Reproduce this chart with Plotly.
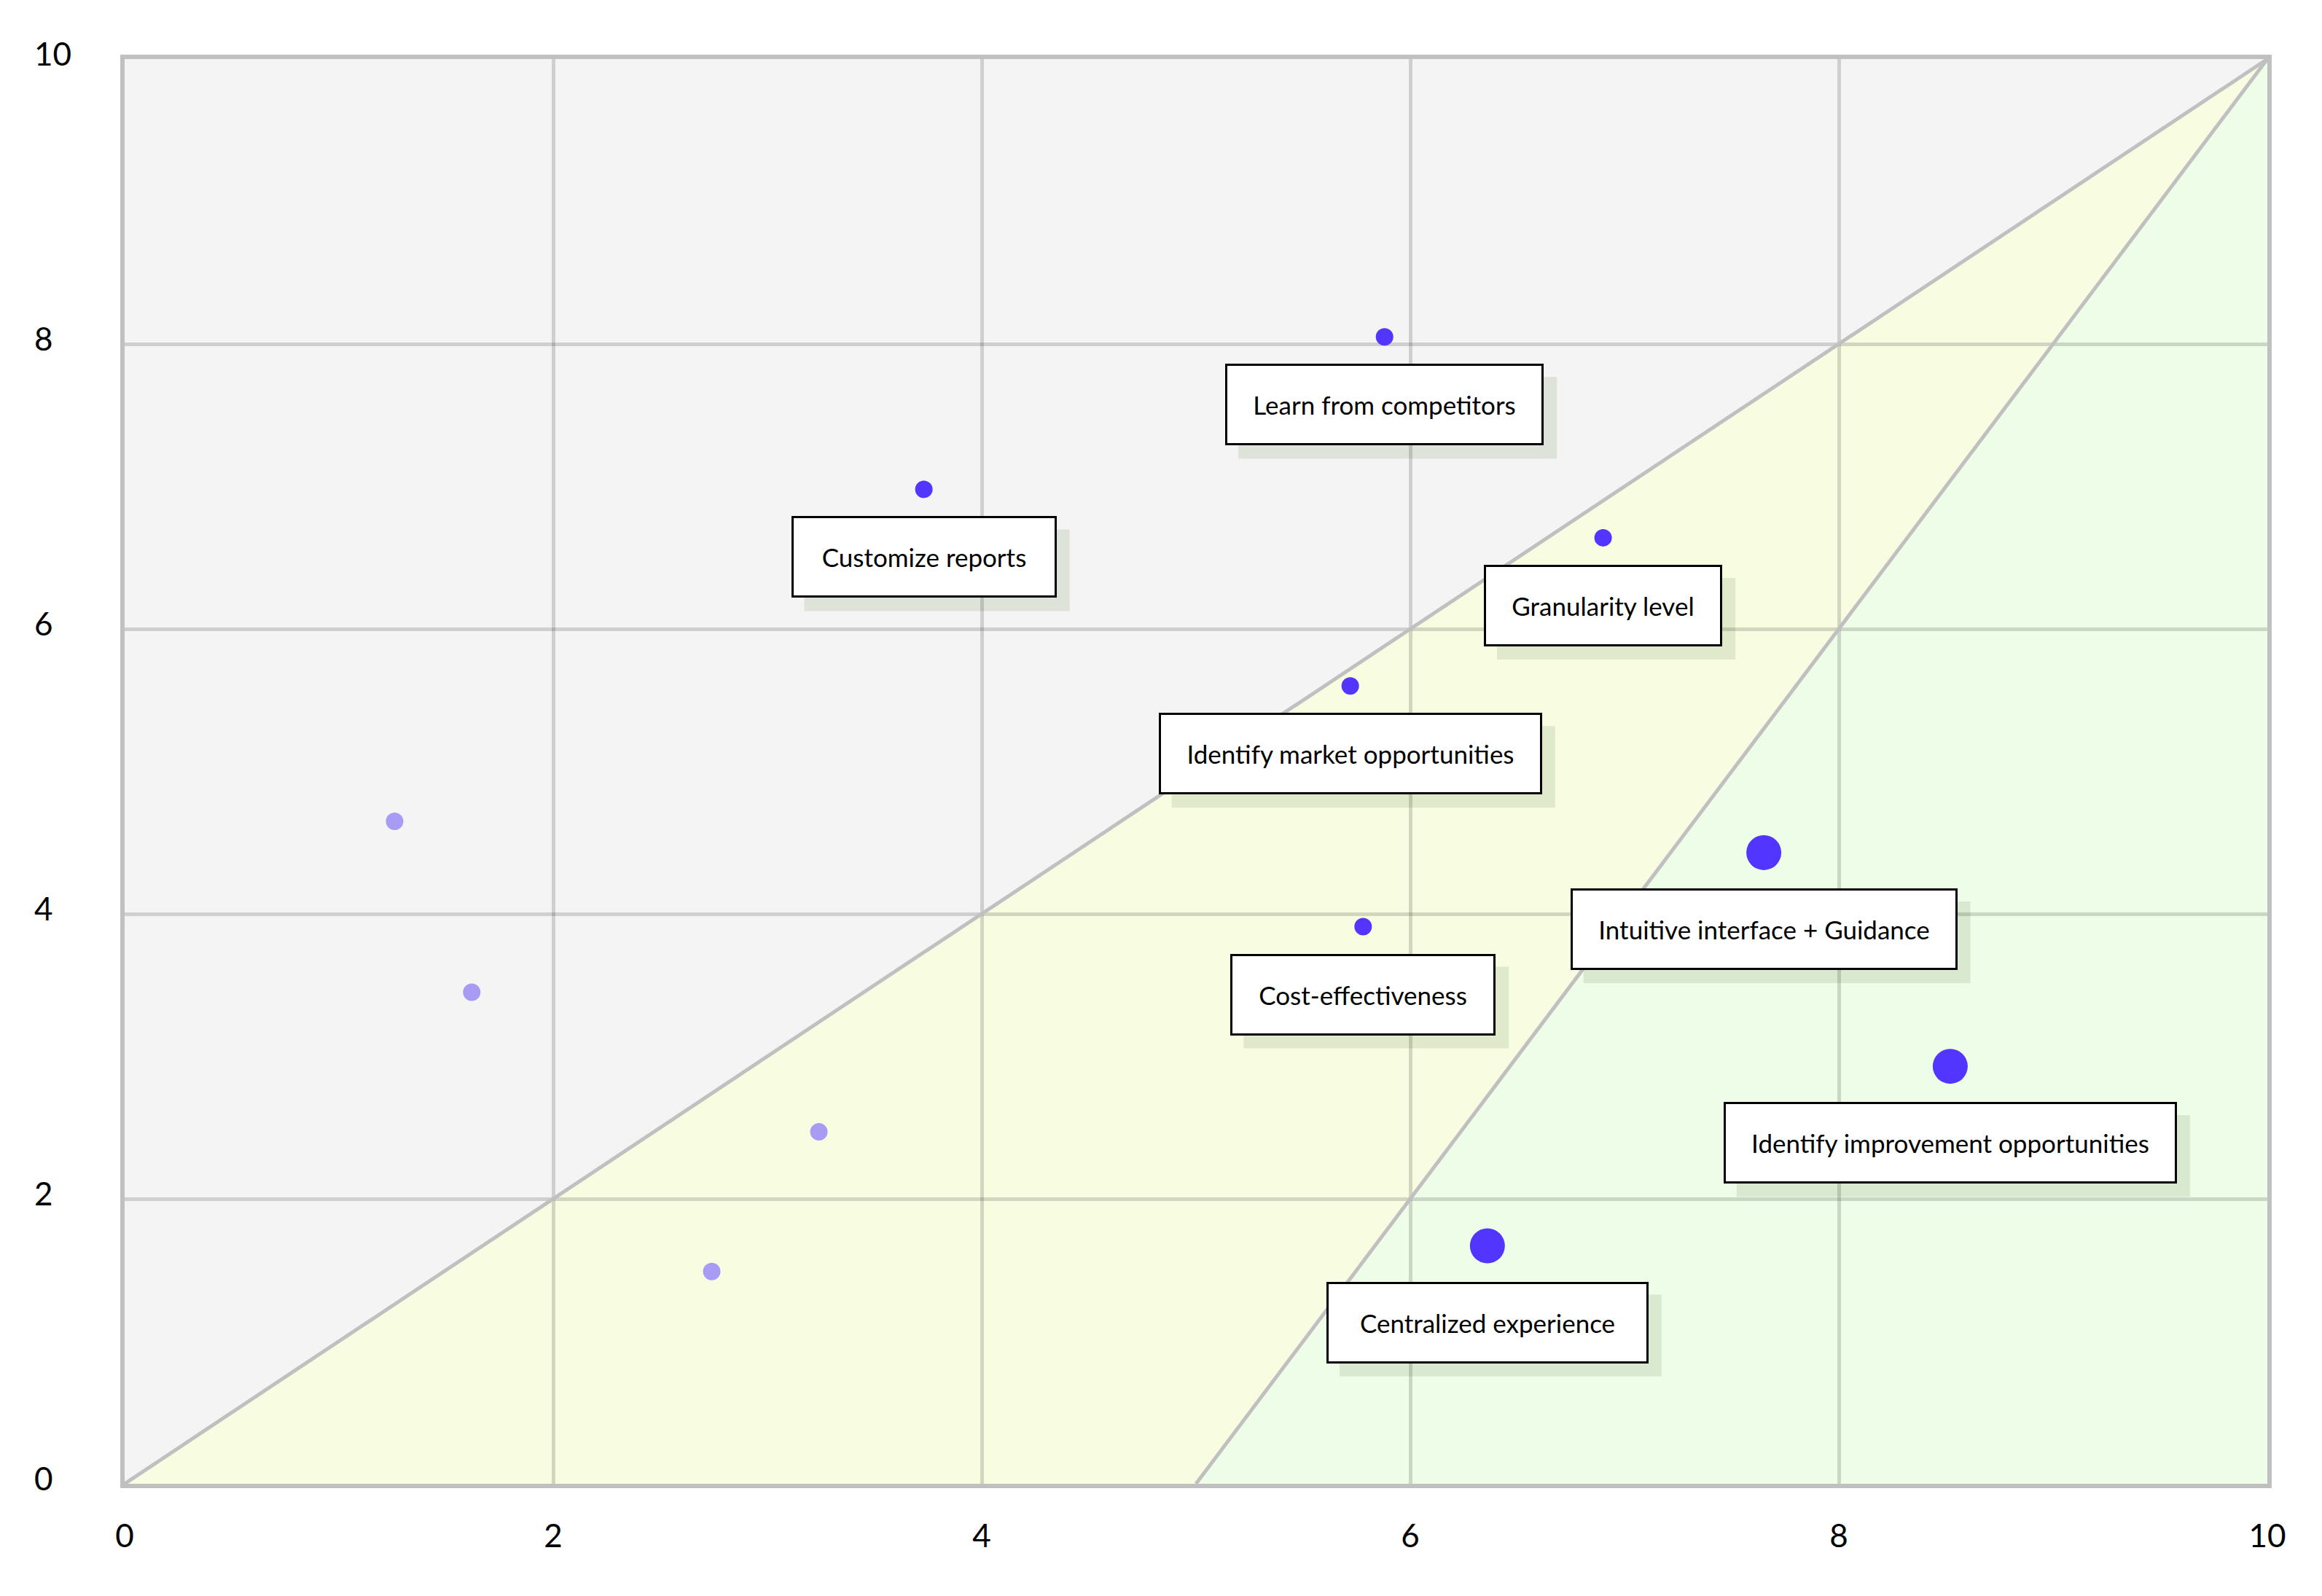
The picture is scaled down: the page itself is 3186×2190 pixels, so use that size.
import plotly.graph_objects as go

# ---------------- data ----------------
labels = [
    "Learn from competitors",
    "Customize reports",
    "Granularity level",
    "Identify market opportunities",
    "Cost-effectiveness",
    "Intuitive interface + Guidance",
    "Identify improvement opportunities",
    "Centralized experience",
]
label_x = [5.88, 3.73, 6.90, 5.72, 5.78, 7.65, 8.52, 6.36]
label_y = [8.05, 6.98, 6.64, 5.60, 3.91, 4.43, 2.93, 1.67]

other_x = [1.26, 1.62, 3.24, 2.74]
other_y = [4.65, 3.45, 2.47, 1.49]

tick_vals = [0, 2, 4, 6, 8, 10]
tick_text = ["0", "2", "4", "6", "8", "10"]

# region boundaries (data space)
line_a = [(0, 0), (10, 10)]
line_b = [(5, 0), (10, 10)]

# ---------------- styles ----------------
marker_sizes = [24, 24, 24, 24, 24, 48, 48, 48]
box_widths = [437, 364, 327, 526, 364, 531, 622, 442]
BOX_H = 112
BOX_GAP = 25
SHADOW_OFF = 18
DARK = "#5236FF"
LIGHT = "#A79BF3"
FONT = "Lato"
TICK_FONT = dict(family=FONT, size=44, color="#000000")

fig = go.Figure()

fig.add_trace(go.Scatter(
    x=other_x, y=other_y, mode="markers",
    marker=dict(size=24, color=LIGHT, opacity=1, line=dict(width=0)),
    hoverinfo="skip", showlegend=False,
))
fig.add_trace(go.Scatter(
    x=label_x, y=label_y, mode="markers",
    marker=dict(size=marker_sizes, color=DARK, opacity=1, line=dict(width=0)),
    hoverinfo="skip", showlegend=False,
))

shapes = []
# region fills
(ax0, ay0), (ax1, ay1) = line_a
(bx0, by0), (bx1, by1) = line_b
shapes.append(dict(type="path", xref="x", yref="y", layer="below",
                   path=f"M {ax0} {ay0} L {ax1} {ay1} L {ax0} {ay1} Z",
                   fillcolor="#F4F4F4", line=dict(width=0)))
shapes.append(dict(type="path", xref="x", yref="y", layer="below",
                   path=f"M {ax0} {ay0} L {ax1} {ay1} L {bx0} {by0} Z",
                   fillcolor="#F8FCE0", line=dict(width=0)))
shapes.append(dict(type="path", xref="x", yref="y", layer="below",
                   path=f"M {bx0} {by0} L {bx1} {by1} L {bx1} {by0} Z",
                   fillcolor="#EEFDE8", line=dict(width=0)))

# shadows
for x, y, s, w in zip(label_x, label_y, marker_sizes, box_widths):
    top = s / 2 + BOX_GAP + SHADOW_OFF
    shapes.append(dict(
        type="rect", xref="x", yref="y", layer="below",
        xsizemode="pixel", ysizemode="pixel", xanchor=x, yanchor=y,
        x0=-w / 2 + SHADOW_OFF, x1=w / 2 + SHADOW_OFF,
        y0=-top, y1=-(top + BOX_H),
        fillcolor="rgba(150,175,130,0.25)", line=dict(width=0),
    ))

# diagonal boundary lines
for (p0, p1) in (line_a, line_b):
    shapes.append(dict(type="line", xref="x", yref="y", layer="between",
                       x0=p0[0], y0=p0[1], x1=p1[0], y1=p1[1],
                       line=dict(color="#C0C0C0", width=5)))

annotations = []
for t, x, y, s, w in zip(labels, label_x, label_y, marker_sizes, box_widths):
    annotations.append(dict(
        text=t, x=x, y=y, xref="x", yref="y", showarrow=False,
        xanchor="center", yanchor="middle",
        yshift=-(s / 2 + BOX_GAP + BOX_H / 2),
        width=w - 6, height=BOX_H - 6,
        bgcolor="#FFFFFF", bordercolor="#000000", borderwidth=3, borderpad=0,
        font=dict(family=FONT, size=35, color="#000000"),
        align="center", valign="middle",
    ))

# y-axis tick labels, left-aligned as in the original
for v, t in zip(tick_vals, tick_text):
    annotations.append(dict(
        text=t, x=0, y=v, xref="paper", yref="y", showarrow=False,
        xanchor="left", yanchor="middle", xshift=-125, yshift=8,
        font=TICK_FONT, borderpad=0,
    ))

axis_common = dict(
    range=[0, 10], tickvals=tick_vals, ticktext=tick_text,
    showgrid=True, gridcolor="rgba(0,0,0,0.15)", gridwidth=5,
    showline=True, linecolor="#C0C0C0", linewidth=6, mirror=True,
    zeroline=False, ticks="", fixedrange=True,
    tickfont=TICK_FONT,
)

fig.update_layout(
    width=3186, height=2190,
    margin=dict(l=163, r=83, t=73, b=162),
    paper_bgcolor="#FFFFFF", plot_bgcolor="#FFFFFF",
    shapes=shapes, annotations=annotations,
    xaxis=dict(**axis_common, ticklabelstandoff=28),
    yaxis=dict(**axis_common, showticklabels=False),
    showlegend=False,
)

fig.write_html("out.html")
